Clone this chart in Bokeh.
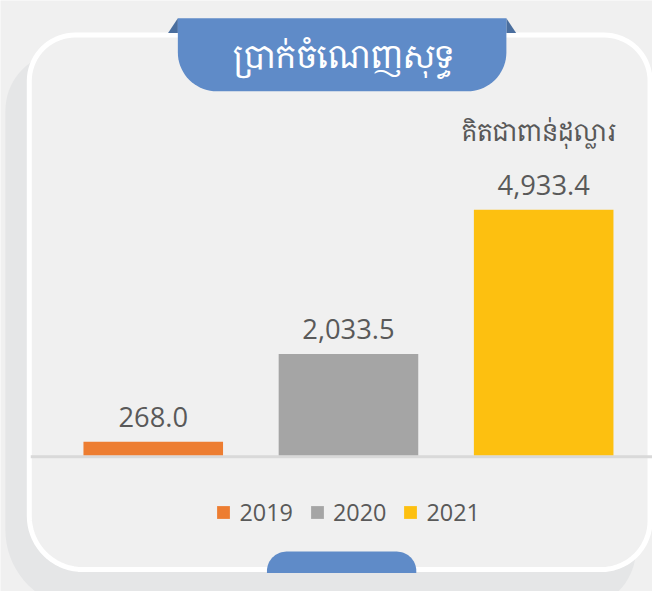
import math
from bokeh.plotting import figure
from bokeh.models import Range1d, Legend, LegendItem
from bokeh.core.properties import value
from bokeh.embed import file_html
from bokeh.resources import INLINE

# ---- data ----
years = ["2019", "2020", "2021"]
profits = [268.0, 2033.5, 4933.4]
colors = ["#ED7D31", "#A5A5A5", "#FDC010"]
title_text = "ប្រាក់ចំណេញសុទ្ធ"
unit_text = "គិតជាពាន់ដុល្លារ"

W, H = 652, 591
RW, RH = 668.0, 607.0          # design canvas
SX = W / RW
KHMER = "'Khmer OS', 'Khmer OS System', 'Noto Serif Khmer', 'Noto Sans Khmer', sans-serif"
LATIN = "'Open Sans'"
TXT = "#595959"
BLUE = "#5F8BC8"

# value axis scale (design px per unit)
k = 252.0 / 4933.4
base_y = 467.0
xs = list(range(len(years)))
x0 = -156.5 / 200.0

p = figure(width=W, height=H, output_backend="svg", toolbar_location=None,
           x_range=Range1d(x0, x0 + RW / 200.0),
           y_range=Range1d(-(RH - base_y) / k, base_y / k),
           x_axis_location=None, y_axis_location=None, min_border=0,
           background_fill_color="#F0F0F0", border_fill_color="#F0F0F0",
           outline_line_color=None)
p.grid.visible = False
p.extra_x_ranges = {"px": Range1d(0, RW)}
p.extra_y_ranges = {"px": Range1d(RH, 0)}


def rrect(l, t, r, b, rtl, rtr, rbr, rbl, n=18):
    X, Y = [], []

    def arc(cx, cy, rad, a0, a1):
        for i in range(n + 1):
            a = math.radians(a0 + (a1 - a0) * i / n)
            X.append(cx + rad * math.cos(a))
            Y.append(cy + rad * math.sin(a))

    arc(r - rtr, t + rtr, rtr, -90, 0)
    arc(r - rbr, b - rbr, rbr, 0, 90)
    arc(l + rbl, b - rbl, rbl, 90, 180)
    arc(l + rtl, t + rtl, rtl, 180, 270)
    return X, Y


PX = dict(x_range_name="px", y_range_name="px")

# shadow
sx, sy = rrect(5, 53, 651, 624, 60, 60, 60, 80)
p.patch(sx, sy, fill_color="#E5E6E7", line_color=None, **PX)
# card with white border
cx, cy = rrect(29.5, 35.5, 665.5, 584.5, 47, 47, 50, 55)
p.patch(cx, cy, fill_color="#F0F0F0", line_color="white", line_width=5, **PX)

# title tab folds and tab
p.patch([171.7, 181.7, 181.7], [33.5, 18.3, 33.5], fill_color="#4A6E9E", line_color=None, **PX)
p.patch([528.3, 518.3, 518.3], [33.5, 18.3, 33.5], fill_color="#4A6E9E", line_color=None, **PX)
tx, ty = rrect(181.7, 18.3, 518.3, 93.3, 0, 0, 40, 40)
p.patch(tx, ty, fill_color=BLUE, line_color=None, **PX)
p.text(x=[351], y=[57], text=[title_text], text_align="center", text_baseline="middle",
       text_color="white", text_font=value(KHMER), text_font_size=f"{33*SX:.1f}px", **PX)

# bottom tab
bx, by = rrect(273, 566, 426, 588, 20, 20, 0, 0)
p.patch(bx, by, fill_color=BLUE, line_color=None, **PX)

# unit label
p.text(x=[551.5], y=[135], text=[unit_text], text_align="center", text_baseline="middle",
       text_color=TXT, text_font=value(KHMER), text_font_size=f"{25*SX:.1f}px", **PX)

# baseline
p.segment(x0=[31], x1=[668], y0=[468.5], y1=[468.5], line_color="#D9D9D9", line_width=3, **PX)

# bars
bars = p.vbar(x=xs, top=profits, bottom=0, width=143 / 200.0, fill_color=colors, line_color=None)

# value labels
labels = [f"{v:,.1f}" for v in profits]
p.text(x=xs, y=profits, text=labels, y_offset=-15, text_align="center",
       text_baseline="bottom", text_color=TXT, text_font=value(LATIN),
       text_font_size=f"{28*SX:.1f}px")

# legend
items = [LegendItem(label=y, renderers=[bars], index=i) for i, y in enumerate(years)]
legend = Legend(items=items, orientation="horizontal", location=(220.7 * SX, 63.4),
                glyph_width=round(16 * SX), glyph_height=round(16 * SX),
                label_standoff=8, spacing=16,
                padding=0, margin=0, border_line_color=None, background_fill_alpha=0,
                label_text_font_size=f"{24*SX:.1f}px", label_text_color=TXT,
                label_text_font=LATIN)
p.add_layout(legend, "center")

open("out.html", "w").write(file_html(p, INLINE))
